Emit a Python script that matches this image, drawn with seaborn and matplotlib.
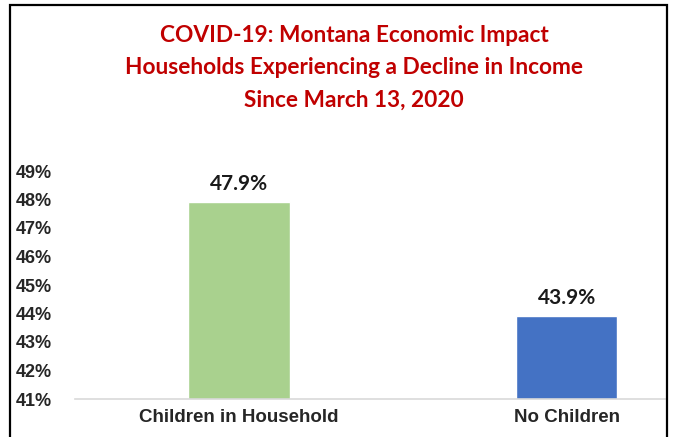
import matplotlib
matplotlib.use("Agg")
import matplotlib.pyplot as plt
import seaborn as sns
from matplotlib.patches import Rectangle
from matplotlib.ticker import FuncFormatter

# data
categories = ["Children in Household", "No Children"]
values = [47.9, 43.9]
bar_colors = ["#A9D18E", "#4472C4"]
title_lines = [
    "COVID-19: Montana Economic Impact",
    "Households Experiencing a Decline in Income",
    "Since March 13, 2020",
]
y_ticks = [41, 42, 43, 44, 45, 46, 47, 48, 49]

sns.set_theme(style="white")
plt.rcParams["font.family"] = ["Liberation Sans", "DejaVu Sans"]

W, H = 673, 437
fig = plt.figure(figsize=(W / 100, H / 100), dpi=100)
ax = fig.add_axes([75 / W, (H - 399) / H, (665 - 75) / W, (399 - 171) / H])

sns.barplot(x=categories, y=values, hue=categories, palette=bar_colors,
            width=0.31, legend=False, ax=ax, saturation=1)

ax.set_ylim(41, 49)
ax.set_xlim(-0.5, 1.3)
ax.set_yticks(y_ticks)
ax.yaxis.set_major_formatter(FuncFormatter(lambda v, _: f"{v:.0f}%"))
ax.tick_params(axis="y", length=0, pad=17, labelsize=13)
ax.tick_params(axis="x", length=0, pad=7, labelsize=13.5)
for lab in ax.get_yticklabels() + ax.get_xticklabels():
    lab.set_fontweight("bold")
ax.set_xlabel("")
ax.set_ylabel("")
for side in ["left", "right", "top"]:
    ax.spines[side].set_visible(False)
ax.spines["bottom"].set_color("#D9D9D9")
ax.spines["bottom"].set_linewidth(1.2)

for i, v in enumerate(values):
    ax.text(i, v + 0.3, f"{v:.1f}%", ha="center", va="bottom",
            fontsize=15, fontweight="bold", color="#1a1a1a",
            family=["Lato", "DejaVu Sans"])

for k, line in enumerate(title_lines):
    fig.text(354 / W, 1 - (35 + 32.5 * k) / H, line, ha="center", va="center",
             fontsize=16.3, fontweight="bold", color="#C00000",
             family=["Lato", "DejaVu Sans"])

# outer frame of the chart object
fig.patches.append(Rectangle((10 / W, -0.05), (667 - 10) / W, 1.05 - 5 / H,
                             transform=fig.transFigure, fill=False,
                             edgecolor="black", linewidth=1.6))

fig.savefig("out.png", dpi=100)
